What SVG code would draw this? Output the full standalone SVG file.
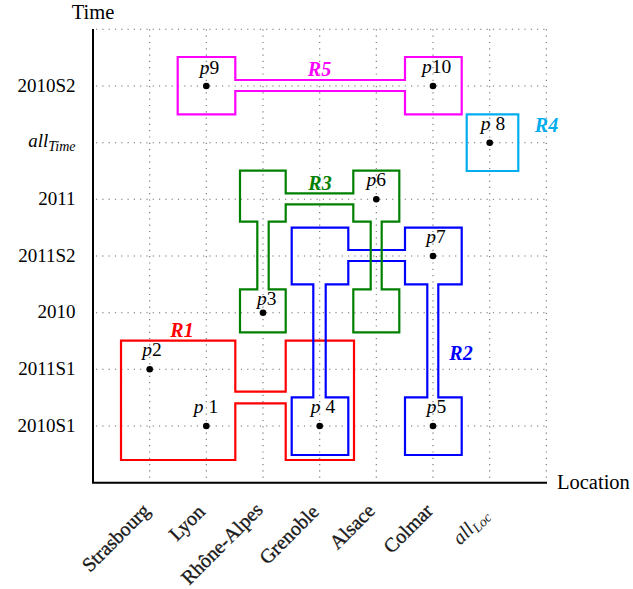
<svg xmlns="http://www.w3.org/2000/svg" width="633" height="589" viewBox="0 0 633 589">
  <style>
    text { font-family: "Liberation Serif", "DejaVu Serif", serif; }
    .grid line { stroke: #6f6f6f; stroke-width: 1.1; stroke-dasharray: 1.2 5.1; }
    .axis { stroke: #000; stroke-width: 2; fill: none; }
    .tick { font-size: 19px; text-anchor: end; fill: #000; }
    .title { font-size: 20.5px; fill: #000; }
    .cat { font-size: 20px; text-anchor: end; fill: #1a1a1a; stroke: #1a1a1a; stroke-width: 0.35; }
    .region { fill: none; stroke-width: 2.2; stroke-linejoin: miter; }
    .pt { fill: #000; }
    .plabel { font-size: 19.5px; text-anchor: middle; fill: #000; }
    .it { font-style: italic; }
    .rlabel { font-size: 20px; font-weight: bold; font-style: italic; text-anchor: middle; }
    .c1 { fill: #ff0000; }
    .c2 { fill: #0000ff; }
    .c3 { fill: #008000; }
    .c4 { fill: #00aeef; }
    .c5 { fill: #ff00ff; }
  </style>

  <!-- dotted grid -->
  <g id="grid" class="grid">
    <line x1="149.7" y1="29.3" x2="149.7" y2="482.7"/>
    <line x1="206.3" y1="29.3" x2="206.3" y2="482.7"/>
    <line x1="263" y1="29.3" x2="263" y2="482.7"/>
    <line x1="319.7" y1="29.3" x2="319.7" y2="482.7"/>
    <line x1="376.3" y1="29.3" x2="376.3" y2="482.7"/>
    <line x1="433" y1="29.3" x2="433" y2="482.7"/>
    <line x1="489.7" y1="29.3" x2="489.7" y2="482.7"/>
    <line x1="546.3" y1="29.3" x2="546.3" y2="482.7"/>
    <line x1="96" y1="29.3" x2="546.3" y2="29.3"/>
    <line x1="96" y1="86" x2="546.3" y2="86"/>
    <line x1="96" y1="142.7" x2="546.3" y2="142.7"/>
    <line x1="96" y1="199.3" x2="546.3" y2="199.3"/>
    <line x1="96" y1="256" x2="546.3" y2="256"/>
    <line x1="96" y1="312.7" x2="546.3" y2="312.7"/>
    <line x1="96" y1="369.3" x2="546.3" y2="369.3"/>
    <line x1="96" y1="426" x2="546.3" y2="426"/>
  </g>

  <!-- axes -->
  <g id="axes">
    <path class="axis" d="M93,29 V482.7 H547"/>
    <text class="title" x="93" y="19" text-anchor="middle">Time</text>
    <text class="title" x="557" y="489">Location</text>
  </g>

  <!-- time members -->
  <g id="time-ticks">
    <text class="tick" x="75.5" y="91.5">2010S2</text>
    <text class="tick" x="75.5" y="147"><tspan class="it">all</tspan><tspan class="it" font-size="14" dy="3.5">Time</tspan></text>
    <text class="tick" x="75.5" y="204.8">2011</text>
    <text class="tick" x="75.5" y="261.5">2011S2</text>
    <text class="tick" x="75.5" y="318.2">2010</text>
    <text class="tick" x="75.5" y="374.8">2011S1</text>
    <text class="tick" x="75.5" y="431.5">2010S1</text>
  </g>

  <!-- location members -->
  <g id="location-ticks">
    <text class="cat" transform="translate(151,512) rotate(-45)">Strasbourg</text>
    <text class="cat" transform="translate(206,513) rotate(-45)">Lyon</text>
    <text class="cat" transform="translate(264,511) rotate(-45)">Rhône-Alpes</text>
    <text class="cat" transform="translate(320,513) rotate(-45)">Grenoble</text>
    <text class="cat" transform="translate(376,512) rotate(-45)">Alsace</text>
    <text class="cat" transform="translate(434,512) rotate(-45)">Colmar</text>
    <text class="cat" transform="translate(490,516) rotate(-45)" style="stroke:none;fill:#222"><tspan class="it">all</tspan><tspan class="it" font-size="14" dy="3.5">Loc</tspan></text>
  </g>

  <!-- regions -->
  <g id="R1">
    <path class="region" stroke="#ff0000" d="M121,340.7 H235.3 V391.7 H285.7 V340.7 H354 V460 H285.7 V403.3 H235.3 V460 H121 Z"/>
    <text class="rlabel c1" x="182" y="337">R1</text>
  </g>
  <g id="R2">
    <path class="region" stroke="#0000ff" d="M291.7,227.7 H348.3 V250 H405 V227.7 H461.7 V284.3 H438.3 V397.3 H461.7 V455 H405 V397.3 H427.3 V284.3 H405 V261 H348.3 V284.3 H325.7 V397.3 H348.3 V455 H291.7 V397.3 H313.3 V284.3 H291.7 Z"/>
    <text class="rlabel c2" x="461" y="360">R2</text>
  </g>
  <g id="R3">
    <path class="region" stroke="#008000" d="M240,170.7 H285.7 V193.3 H353.3 V170.7 H399.3 V221.7 H381.7 V289.3 H399.3 V332.3 H353.3 V289.3 H370.7 V221.7 H353.3 V204.3 H285.7 V221.7 H268.7 V289.3 H285.7 V332.3 H240 V289.3 H257.3 V221.7 H240 Z"/>
    <text class="rlabel c3" x="320" y="190">R3</text>
  </g>
  <g id="R4">
    <path class="region" stroke="#00aeef" d="M466.7,114.3 H518.3 V171 H466.7 Z"/>
    <text class="rlabel c4" x="546.5" y="132">R4</text>
  </g>
  <g id="R5">
    <path class="region" stroke="#ff00ff" d="M177.7,57 H235.3 V80 H405 V57 H461.7 V114.3 H405 V91 H235.3 V114.3 H177.7 Z"/>
    <text class="rlabel c5" x="319.5" y="76">R5</text>
  </g>

  <!-- facts -->
  <g id="p1"><circle class="pt" cx="206.3" cy="426" r="3.3"/><text class="plabel" x="206" y="413"><tspan class="it">p</tspan> 1</text></g>
  <g id="p2"><circle class="pt" cx="149.7" cy="369.3" r="3.3"/><text class="plabel" x="152" y="356"><tspan class="it">p</tspan>2</text></g>
  <g id="p3"><circle class="pt" cx="263" cy="312.7" r="3.3"/><text class="plabel" x="266.7" y="305"><tspan class="it">p</tspan>3</text></g>
  <g id="p4"><circle class="pt" cx="319.7" cy="426" r="3.3"/><text class="plabel" x="323" y="413"><tspan class="it">p</tspan> 4</text></g>
  <g id="p5"><circle class="pt" cx="433" cy="426" r="3.3"/><text class="plabel" x="436.5" y="413"><tspan class="it">p</tspan>5</text></g>
  <g id="p6"><circle class="pt" cx="376.3" cy="199.3" r="3.3"/><text class="plabel" x="376.3" y="186"><tspan class="it">p</tspan>6</text></g>
  <g id="p7"><circle class="pt" cx="433" cy="256" r="3.3"/><text class="plabel" x="436" y="243.3"><tspan class="it">p</tspan>7</text></g>
  <g id="p8"><circle class="pt" cx="489.7" cy="142.7" r="3.3"/><text class="plabel" x="493" y="129.5"><tspan class="it">p</tspan> 8</text></g>
  <g id="p9"><circle class="pt" cx="206.3" cy="86" r="3.3"/><text class="plabel" x="209.5" y="74"><tspan class="it">p</tspan>9</text></g>
  <g id="p10"><circle class="pt" cx="433" cy="86" r="3.3"/><text class="plabel" x="436.5" y="73"><tspan class="it">p</tspan>10</text></g>
</svg>
